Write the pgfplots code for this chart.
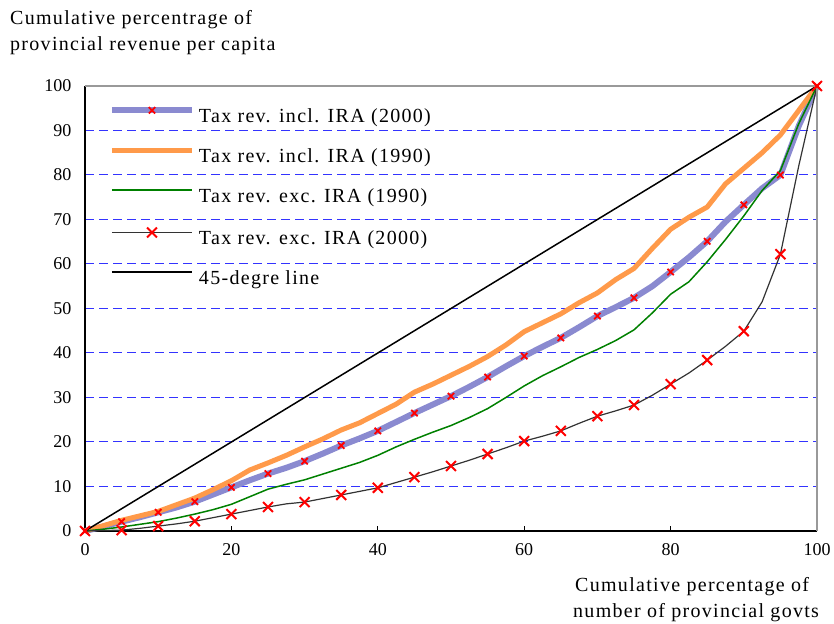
\documentclass[border=0pt]{standalone}
\usepackage{fontspec}
\setmainfont{Liberation Serif}
\usepackage{pgfplots}
\pgfplotsset{compat=1.18}
\definecolor{lav}{HTML}{8A8AD0}
\definecolor{org}{HTML}{FF9A4A}
\definecolor{grn}{HTML}{008000}
\definecolor{gridb}{HTML}{3333FF}
\newcommand{\lsfont}{\fontsize{20}{24}\selectfont\addfontfeature{LetterSpace=6.5}}
\pgfplotsset{longleg/.style={legend image code/.code={\draw[#1,mark repeat=2,mark phase=2] plot coordinates {(0pt,6pt) (40pt,6pt) (80pt,6pt)};}}}
\begin{document}
\begin{tikzpicture}[x=1pt,y=1pt]
\useasboundingbox (0,0) rectangle (834,623);
\begin{axis}[
  at={(85pt,92pt)}, anchor=south west,
  width=732pt, height=445pt, scale only axis,
  xmin=0,xmax=100,ymin=0,ymax=100,
  axis lines*=left,
  axis line style={black, line width=1.2pt},
  xtick={0,20,...,100}, ytick={0,10,...,100},
  tick align=inside, major tick length=5pt,
  ytick style={draw=none}, xtick style={draw=black, line width=0.8pt},
  ymajorgrids, grid style={gridb, dash pattern=on 9pt off 5pt, line width=1pt},
  tick label style={font=\fontsize{18}{20}\selectfont},
  /pgf/number format/assume math mode=true,
  yticklabel style={xshift=-10pt},
  xticklabel style={yshift=-9pt},
  clip=false,
  legend cell align=left,
  longleg,
  legend style={draw=none, fill=none, at={(axis description cs:0.0325,0.953)}, anchor=north west,
    font=\lsfont, row sep=24pt, column sep=4pt, inner sep=0pt, nodes={inner sep=0pt}},
]
\addplot[lav, line width=6pt, mark=x, mark repeat=2, mark size=4.5pt, mark options={red, line width=1.8pt, solid}] coordinates {
(0,0) (2.5,1.0) (5,2.1) (7.5,3.1) (10,4.2) (12.5,5.3) (15,6.6) (17.5,8.2) (20,9.8) (22.5,11.4)
(25,12.9) (27.5,14.2) (30,15.7) (32.5,17.4) (35,19.2) (37.5,20.8) (40,22.5) (42.5,24.5) (45,26.5) (47.5,28.4)
(50,30.3) (52.5,32.4) (55,34.6) (57.5,37.0) (60,39.3) (62.5,41.4) (65,43.4) (67.5,45.8) (70,48.3) (72.5,50.3)
(75,52.4) (77.5,55.0) (80,58.2) (82.5,61.5) (85,65.1) (87.5,69.5) (90,73.3) (92.5,77.0) (95,80.0) (97.5,91.0) (100,100)};
\addlegendentry{Tax rev. incl. IRA (2000)}
\addplot[org, line width=5pt] coordinates {
(0,0) (2.5,1.2) (5,2.4) (7.5,3.4) (10,4.4) (12.5,5.9) (15,7.4) (17.5,9.3) (20,11.3) (22.5,13.7)
(25,15.3) (27.5,17.0) (30,18.9) (32.5,20.7) (35,22.7) (37.5,24.3) (40,26.4) (42.5,28.5) (45,31.2) (47.5,33.0)
(50,35.0) (52.5,37.0) (55,39.2) (57.5,41.8) (60,44.8) (62.5,46.8) (65,48.8) (67.5,51.3) (70,53.5) (72.5,56.5)
(75,59.0) (77.5,63.5) (80,67.8) (82.5,70.5) (85,72.8) (87.5,78.0) (90,81.5) (92.5,85.0) (95,89.0) (97.5,94.5) (100,100)};
\addlegendentry{Tax rev. incl. IRA (1990)}
\addplot[grn, line width=1.5pt] coordinates {
(0,0) (2.5,0.4) (5,0.9) (7.5,1.5) (10,2.1) (12.5,2.9) (15,3.8) (17.5,4.8) (20,6.0) (22.5,7.7)
(25,9.4) (27.5,10.5) (30,11.5) (32.5,12.8) (35,14.1) (37.5,15.4) (40,17.0) (42.5,18.9) (45,20.6) (47.5,22.2)
(50,23.7) (52.5,25.5) (55,27.5) (57.5,30.0) (60,32.6) (62.5,34.9) (65,36.9) (67.5,39.0) (70,40.8) (72.5,42.8)
(75,45.2) (77.5,49.0) (80,53.2) (82.5,56.0) (85,60.5) (87.5,65.5) (90,70.8) (92.5,76.5) (95,81.0) (97.5,91.5) (100,100)};
\addlegendentry{Tax rev. exc. IRA (1990)}
\addplot[black!80, line width=1.2pt, mark=x, mark repeat=2, mark size=7pt, mark options={red, line width=2pt, solid}] coordinates {
(0,0) (2.5,0.1) (5,0.2) (7.5,0.6) (10,1.1) (12.5,1.6) (15,2.2) (17.5,3.0) (20,3.8) (22.5,4.6)
(25,5.4) (27.5,6.1) (30,6.5) (32.5,7.3) (35,8.1) (37.5,8.9) (40,9.7) (42.5,10.9) (45,12.1) (47.5,13.3)
(50,14.6) (52.5,15.9) (55,17.3) (57.5,18.7) (60,20.2) (62.5,21.3) (65,22.5) (67.5,24.2) (70,25.8) (72.5,27.0)
(75,28.3) (77.5,30.5) (80,33.0) (82.5,35.5) (85,38.4) (87.5,41.5) (90,44.9) (92.5,51.5) (95,62.2) (97.5,82.0) (100,100)};
\addlegendentry{Tax rev. exc. IRA (2000)}
\addplot[black, line width=1.5pt] coordinates {(0,0) (40,40) (87,87) (100,100)};
\addlegendentry{45-degre line}
\draw[gray!80, line width=1.6pt] (rel axis cs:0,1) -- (rel axis cs:1,1) -- (rel axis cs:1,0);
\end{axis}
\node[anchor=base west, font=\lsfont, inner sep=0pt] at (10,598) {Cumulative percentrage of};
\node[anchor=base west, font=\lsfont, inner sep=0pt] at (10,572) {provincial revenue per capita};
\node[anchor=base west, font=\lsfont, inner sep=0pt] at (575,31) {Cumulative percentage of};
\node[anchor=base west, font=\lsfont, inner sep=0pt] at (573,6) {number of provincial govts};
\end{tikzpicture}
\end{document}
